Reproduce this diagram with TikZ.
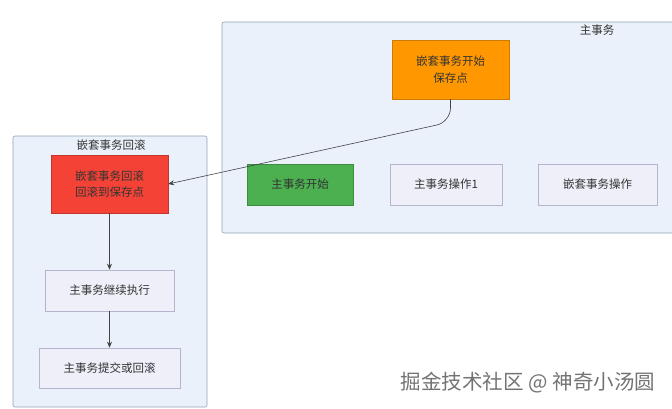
\documentclass[tikz,border=0pt]{standalone}
\usepackage{fontspec}
\newfontfamily\cjk{Noto Sans CJK SC}
\usetikzlibrary{arrows.meta}
\definecolor{contfill}{HTML}{EAF1FA}
\definecolor{contdraw}{HTML}{8FA3B5}
\definecolor{boxfill}{HTML}{EFEFF9}
\definecolor{boxdraw}{HTML}{B4B4CC}
\definecolor{redfill}{HTML}{F44336}
\definecolor{orangefill}{HTML}{FF9800}
\definecolor{greenfill}{HTML}{4CAF50}
\definecolor{txt}{HTML}{333333}
\definecolor{edge}{HTML}{444444}
\begin{document}
\begin{tikzpicture}[x=1pt,y=-1pt,
  font=\cjk\fontsize{11.5}{16.5}\selectfont,
  cont/.style={draw=contdraw,fill=contfill,rounded corners=2pt,line width=0.6pt},
  plainbox/.style={draw=boxdraw,fill=boxfill,line width=0.6pt,text=txt,align=center,inner sep=0pt},
  colbox/.style={draw=#1!80!black,fill=#1,line width=0.4pt,text=txt,align=center,inner sep=0pt},
  conn/.style={draw=edge,line width=0.6pt,-{Stealth[length=6pt,width=5pt]}}]
\useasboundingbox (0,0) rectangle (672,408);
% containers
\draw[cont] (222,22) rectangle (676,233);
\node[text=txt] (maint) at (597,30) {主事务};
\draw[cont] (13,136) rectangle (207,407);
\node[text=txt] (nestt) at (111,145) {嵌套事务回滚};
% main transaction boxes
\node[colbox=orangefill,minimum width=117pt,minimum height=59pt] (sp) at (450.5,69.5) {嵌套事务开始\\保存点};
\node[colbox=greenfill,minimum width=106pt,minimum height=41pt] (ms) at (300,184.5) {主事务开始};
\node[plainbox,minimum width=112pt,minimum height=41pt] (op1) at (446,184.5) {主事务操作1};
\node[plainbox,minimum width=119pt,minimum height=41pt] (nop) at (597.5,184.5) {嵌套事务操作};
% nested rollback boxes
\node[colbox=redfill,minimum width=117pt,minimum height=58pt] (rb) at (109.5,184) {嵌套事务回滚\\回滚到保存点};
\node[plainbox,minimum width=129pt,minimum height=41pt] (cont) at (109.5,290.5) {主事务继续执行};
\node[plainbox,minimum width=141pt,minimum height=40pt] (cmt) at (109.5,368) {主事务提交或回滚};
% connectors
\coordinate (bend) at (450.5,122);
\draw[conn,rounded corners=14pt] (sp.south) -- (bend) -- (rb.east);
\draw[conn] (rb.south) -- (cont.north);
\draw[conn] (cont.south) -- (cmt.north);
% watermark
\node[text=black!55,font=\cjk\fontsize{20.5}{24}\selectfont] (wm) at (528,383) {掘金技术社区 @ 神奇小汤圆};
\end{tikzpicture}
\end{document}
